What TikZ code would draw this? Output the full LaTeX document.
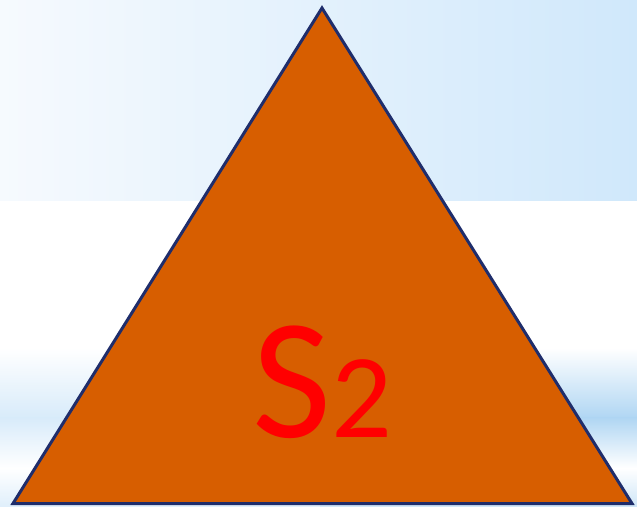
\documentclass[tikz,border=0pt]{standalone}
\usepackage{fontspec}
\setmainfont{Carlito}
\usepackage{tikz}

\definecolor{skyfar}{RGB}{208,232,251}
\definecolor{skynear}{RGB}{246,250,254}
\definecolor{bandleft}{RGB}{216,235,250}
\definecolor{bandright}{RGB}{176,214,243}
\definecolor{pyramid}{RGB}{215,94,0}
\definecolor{rim}{RGB}{31,45,107}

\begin{document}
\begin{tikzpicture}[x=1pt, y=1pt]
    \useasboundingbox (0,0) rectangle (637,506);

    % Background
    \shade[left color=skynear, right color=skyfar] (0,305) rectangle (637,506);
    % lower streak, left and right halves
    \shade[top color=white, bottom color=bandleft] (0,88) rectangle (320,158);
    \shade[top color=bandleft, bottom color=white] (0,38) rectangle (320,88);
    \shade[top color=white, bottom color=bandright] (320,88) rectangle (637,158);
    \shade[top color=bandright, bottom color=white] (320,38) rectangle (637,88);
    \shade[top color=white, bottom color=bandleft!80!white] (0,0) rectangle (320,38);
    \shade[top color=white, bottom color=bandright!60!white] (320,0) rectangle (637,38);

    % Corners
    \coordinate (T) at (322,498); % apex
    \coordinate (L) at (13,2.5);
    \coordinate (R) at (632,2.5);

    % Triangle
    \draw[fill=pyramid, draw=rim, line width=3pt, line join=miter] (L) -- (T) -- (R) -- cycle;

    % Label
    \node[anchor=base, inner sep=0pt, text=red] (label) at (322,68)
        {\fontsize{172}{172}\selectfont S\fontsize{120}{120}\selectfont 2};
\end{tikzpicture}
\end{document}
